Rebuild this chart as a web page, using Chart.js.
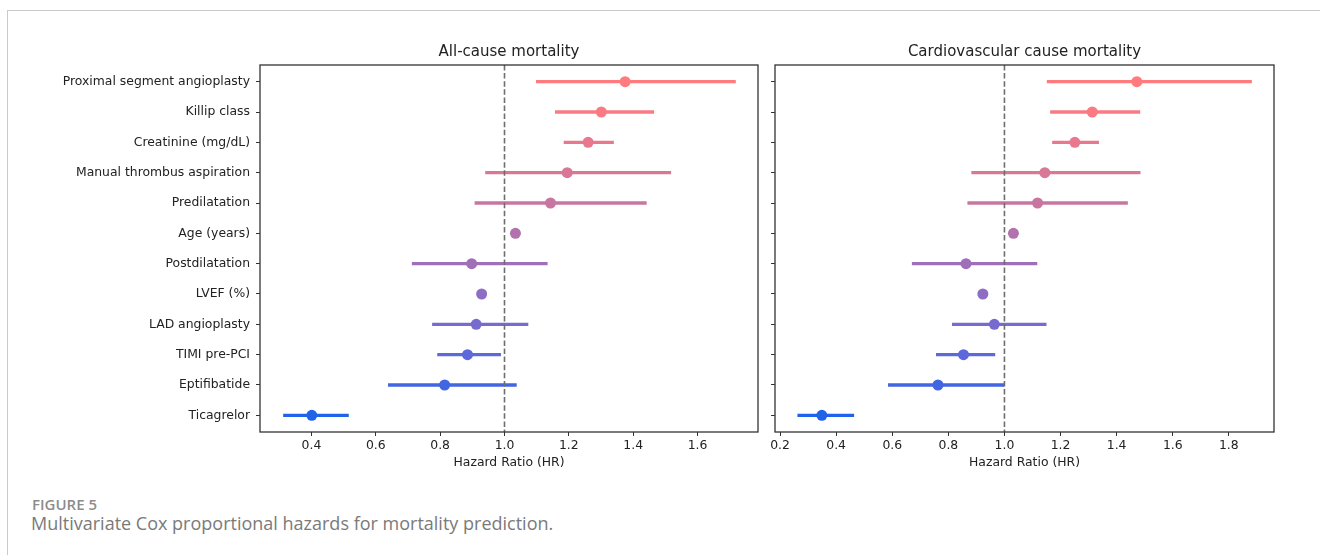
<!DOCTYPE html>
<html>
<head>
<meta charset="utf-8">
<script src="https://cdn.jsdelivr.net/npm/chart.js@4.4.0/dist/chart.umd.min.js"></script>
<style>
html,body{margin:0;padding:0;background:#fff;}
#page{position:relative;width:1320px;height:555px;overflow:hidden;background:#fff;}
.frameTop{position:absolute;left:7px;top:10px;width:1313px;height:0;border-top:1.5px solid #cacaca;}
.frameLeft{position:absolute;left:7px;top:10px;width:0;height:545px;border-left:1.5px solid #cacaca;}
#figLabel{position:absolute;left:32px;top:494px;font-family:"Open Sans";font-size:15px;font-weight:600;color:#8c8c8c;white-space:nowrap;}
#caption{position:absolute;left:31px;top:511px;font-family:"Open Sans";font-size:18px;color:#7a7a7a;white-space:nowrap;}
.panel{position:absolute;top:0;height:480px;}
</style>
</head>
<body>
<div id="page">
  <div class="frameTop"></div>
  <div class="frameLeft"></div>
  <div class="panel" style="left:0;width:765px;"><canvas id="chartAll"></canvas></div>
  <div class="panel" style="left:765px;width:555px;"><canvas id="chartCV"></canvas></div>
  <div id="figLabel">FIGURE 5</div>
  <div id="caption">Multivariate Cox proportional hazards for mortality prediction.</div>
</div>
<script>
// ---- data ----
const categories = [
  "Proximal segment angioplasty", "Killip class", "Creatinine (mg/dL)",
  "Manual thrombus aspiration", "Predilatation", "Age (years)",
  "Postdilatation", "LVEF (%)", "LAD angioplasty", "TIMI pre-PCI",
  "Eptifibatide", "Ticagrelor"
];
const rowColors = [
  "#ff7b7d", "#fa7a83", "#e7788d", "#d87894", "#c876a0", "#b172ad",
  "#9f70b9", "#8e6ec5", "#786bd0", "#5d68da", "#4266e1", "#1f63e9"
];
// All-cause mortality
const allHR = [1.375, 1.301, 1.260, 1.195, 1.143, 1.034, 0.898, 0.929, 0.912, 0.885, 0.814, 0.401];
const allLo = [1.098, 1.157, 1.184, 0.940, 0.907, 1.025, 0.712, 0.921, 0.775, 0.791, 0.638, 0.312];
const allHi = [1.719, 1.465, 1.340, 1.518, 1.442, 1.043, 1.134, 0.937, 1.074, 0.989, 1.038, 0.516];
// Cardiovascular cause mortality
const cvHR = [1.472, 1.313, 1.251, 1.144, 1.118, 1.032, 0.863, 0.923, 0.964, 0.854, 0.763, 0.349];
const cvLo = [1.151, 1.163, 1.170, 0.882, 0.868, 1.024, 0.670, 0.915, 0.813, 0.756, 0.585, 0.262];
const cvHi = [1.882, 1.484, 1.337, 1.485, 1.440, 1.040, 1.117, 0.931, 1.150, 0.967, 0.999, 0.464];
const xTicksAll = [0.4, 0.6, 0.8, 1.0, 1.2, 1.4, 1.6];
const xTicksCV = [0.2, 0.4, 0.6, 0.8, 1.0, 1.2, 1.4, 1.6, 1.8];
const referenceHR = 1.0;
const panelTitles = ["All-cause mortality", "Cardiovascular cause mortality"];
const xAxisTitle = "Hazard Ratio (HR)";

// ---- chart ----
Chart.defaults.font.family = "'DejaVu Sans'";
Chart.defaults.color = "#222";

const framePlugin = {
  id: 'frame',
  afterDatasetsDraw(chart) {
    const {ctx, chartArea: a} = chart;
    ctx.save();
    ctx.strokeStyle = '#333';
    ctx.lineWidth = 1.3;
    ctx.strokeRect(a.left, a.top, a.right - a.left, a.bottom - a.top);
    ctx.restore();
  }
};

function makeChart(id, title, hr, lo, hi, xMin, xMax, xTicks, showYLabels, yAxisWidth, padRight) {
  const yMin = -0.55, yMax = categories.length - 1 + 0.55;
  const datasets = [];
  // markers (top)
  datasets.push({
    type: 'scatter',
    data: hr.map((v, i) => ({x: v, y: i})),
    pointRadius: 5.5,
    pointHoverRadius: 5.5,
    pointBackgroundColor: rowColors,
    pointBorderWidth: 0,
    showLine: false,
    order: 0
  });
  // reference dashed line
  datasets.push({
    type: 'line',
    data: [{x: referenceHR, y: yMin}, {x: referenceHR, y: yMax}],
    borderColor: '#6e6e6e',
    borderWidth: 1.6,
    borderDash: [5.5, 2.6],
    pointRadius: 0,
    order: 1
  });
  // CI lines
  categories.forEach((c, i) => {
    datasets.push({
      type: 'line',
      data: [{x: lo[i], y: i}, {x: hi[i], y: i}],
      borderColor: rowColors[i],
      borderWidth: 3.3,
      pointRadius: 0,
      order: 2
    });
  });
  return new Chart(document.getElementById(id), {
    type: 'scatter',
    data: {datasets},
    plugins: [framePlugin],
    options: {
      responsive: true,
      maintainAspectRatio: false,
      animation: false,
      events: [],
      layout: {padding: {left: 0, right: padRight, top: 0, bottom: 0}},
      plugins: {
        legend: {display: false},
        tooltip: {enabled: false},
        title: {
          display: true, text: title, fullSize: false,
          font: {size: 15, weight: 'normal'}, color: '#222',
          padding: {top: 43, bottom: 4}
        }
      },
      scales: {
        x: {
          type: 'linear', min: xMin, max: xMax,
          afterBuildTicks: s => { s.ticks = xTicks.map(v => ({value: v})); },
          afterFit: s => { s.height = 48; },
          ticks: {font: {size: 12.4}, color: '#222', padding: 2, maxRotation: 0,
                  callback: v => Number(v).toFixed(1)},
          grid: {display: true, drawOnChartArea: false, drawTicks: true, tickLength: 4, color: '#333', lineWidth: 1},
          border: {display: false},
          title: {display: true, text: xAxisTitle, font: {size: 12.4}, color: '#222', padding: {top: 0, bottom: 9.5}}
        },
        y: {
          type: 'linear', min: yMin, max: yMax, reverse: true,
          afterBuildTicks: s => { s.ticks = categories.map((c, i) => ({value: i})); },
          afterFit: s => { s.width = yAxisWidth; },
          ticks: {font: {size: 12.4}, color: '#222', padding: 6, autoSkip: false,
                  callback: (v) => showYLabels ? categories[v] : ''},
          grid: {display: true, drawOnChartArea: false, drawTicks: true, tickLength: 4, color: '#333', lineWidth: 1},
          border: {display: false}
        }
      }
    }
  });
}

makeChart('chartAll', panelTitles[0], allHR, allLo, allHi, 0.24, 1.788, xTicksAll, true, 260, 7);
makeChart('chartCV', panelTitles[1], cvHR, cvLo, cvHi, 0.182, 1.961, xTicksCV, false, 10, 46);
</script>
</body>
</html>
